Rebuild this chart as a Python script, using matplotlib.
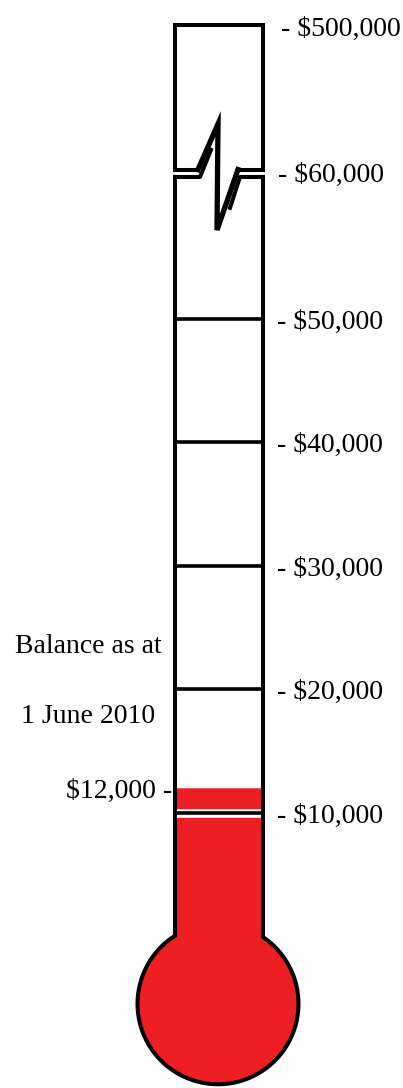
import matplotlib.pyplot as plt
import numpy as np

# tick values inside the tube and their labels
tick_values = [10000, 20000, 30000, 40000, 50000]
tick_labels = ['- $10,000', '- $20,000', '- $30,000', '- $40,000', '- $50,000']
# labels above the scale break (placed at the break and at the tube top)
upper_labels = ['- $60,000', '- $500,000']
balance = 12000
balance_label = '$12,000 -'
caption = ['Balance as at', '1 June 2010']

RED = '#ED1F24'
FONT = 'Liberation Serif'
FS = 20
LW = 2.9

# dollars per pixel of the vertical scale
PX = 80.97
dy = -250   # small text offset

fig = plt.figure(figsize=(4.03, 10.88), dpi=100)
ax = fig.add_axes([0, 0, 1, 1])
ax.set_xlim(0, 403)
ax.set_ylim(-12270, 75830)
ax.axis('off')

xl, xr = 175, 263          # tube walls
top = 73800                # tube top
brk_hi, brk_lo = 62100, 61500   # the two edges at the break

# bulb
cx, r = 218, 80.5
cy = -5450
a_l = np.arccos((cx - xl) / r)
a_r = np.arccos((xr - cx) / r)
t = np.linspace(np.pi - a_l, 2 * np.pi + a_r, 240)
bx = cx + r * np.cos(t)
by = cy + r * PX * np.sin(t)

# red fill: tube up to balance + bulb
fx = np.concatenate([[xl], bx, [xr]])
fy = np.concatenate([[balance], by, [balance]])
ax.fill(fx, fy, color=RED, lw=0, zorder=1)

# grid lines inside tube
for v in tick_values:
    ax.plot([xl, xr], [v, v], color='white', lw=6.2, zorder=2, solid_capstyle='butt')
    ax.plot([xl, xr], [v, v], color='black', lw=2.6, zorder=3, solid_capstyle='butt')

# lower outline: walls + bulb
ox = np.concatenate([[xl], bx, [xr]])
oy = np.concatenate([[brk_lo], by, [brk_lo]])
ax.plot(ox, oy, color='black', lw=LW, zorder=4, solid_joinstyle='miter')

# upper piece with the lightning break
ux = [xl, xl, xr, xr, 238]
uy = [brk_hi, top, top, brk_hi, brk_hi]
ax.plot(ux, uy, color='black', lw=LW, zorder=4, solid_joinstyle='miter')
ax.plot([xl, 198], [brk_hi, brk_hi], color='black', lw=LW, zorder=4)
# the zig-zag itself is drawn heavier
ax.plot([198, 218, 217, 238], [brk_hi, 65790, 57200, brk_hi],
        color='black', lw=3.8, zorder=4, solid_joinstyle='miter')
# lower edges at the break
ax.plot([xl, 200, 211], [brk_lo, brk_lo, 63700], color='black', lw=LW, zorder=4)
ax.plot([xr, 240, 230], [brk_lo, brk_lo, 59000], color='black', lw=LW, zorder=4)

# right-hand labels
for v, lab in zip(tick_values, tick_labels):
    ax.text(277, v + dy, lab, fontsize=FS, family=FONT, va='center', ha='left')
ax.text(278, 61900 + dy, upper_labels[0], fontsize=FS, family=FONT, va='center', ha='left')
ax.text(281, 73700 + dy, upper_labels[1], fontsize=FS, family=FONT, va='center', ha='left')

# left-hand labels
ax.text(172, balance + dy, balance_label, fontsize=FS, family=FONT, va='center', ha='right')
ax.text(88, 23770 + dy, caption[0], fontsize=FS, family=FONT, va='center', ha='center')
ax.text(88, 18100 + dy, caption[1], fontsize=FS, family=FONT, va='center', ha='center')

fig.savefig('out.png', dpi=100)
